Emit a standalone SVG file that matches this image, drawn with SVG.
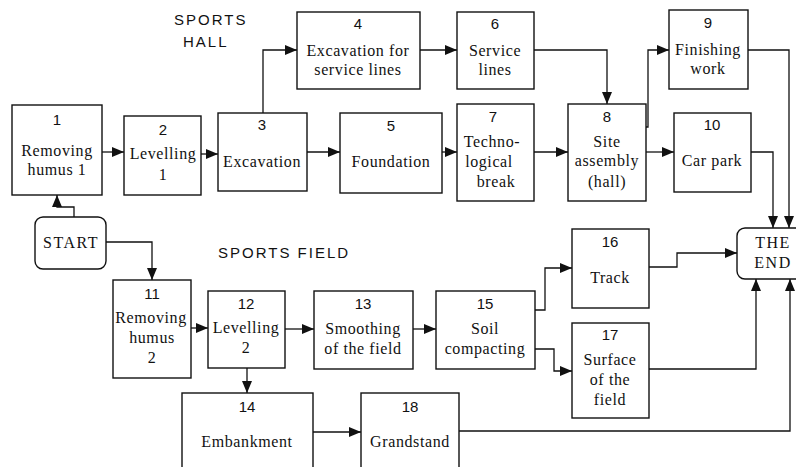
<svg xmlns="http://www.w3.org/2000/svg" width="796" height="467" viewBox="0 0 796 467">
<style>
.box{fill:#fff;stroke:#111;stroke-width:1.4}
.num{font-family:"Liberation Sans",Arial,sans-serif;font-size:15px;fill:#111;text-anchor:middle}
.lbl{font-family:"Liberation Serif","Times New Roman",serif;font-size:16px;letter-spacing:0.6px;fill:#111;text-anchor:middle}
.sec{font-family:"Liberation Sans",Arial,sans-serif;font-size:15px;letter-spacing:2px;fill:#111}
.term{font-family:"Liberation Serif","Times New Roman",serif;font-size:16px;letter-spacing:1.5px;fill:#111;text-anchor:middle}
.con{fill:none;stroke:#111;stroke-width:1.3}
</style>
<defs>
<marker id="arr" markerUnits="userSpaceOnUse" markerWidth="12" markerHeight="10" refX="12" refY="5" orient="auto">
<path d="M0,0 L12,5 L0,10 z" fill="#111"/>
</marker>
</defs>
<rect width="796" height="467" fill="#fff"/>
<text class="sec" x="174" y="25">SPORTS</text>
<text class="sec" x="183" y="47">HALL</text>
<text class="sec" x="218" y="258">SPORTS FIELD</text>

<g id="connectors">
<path class="con" marker-end="url(#arr)" d="M74,217 V207 H57 V195"/>
<path class="con" marker-end="url(#arr)" d="M106,242 H152 V280"/>
<path class="con" marker-end="url(#arr)" d="M102,152 H124"/>
<path class="con" marker-end="url(#arr)" d="M201,154 H218"/>
<path class="con" marker-end="url(#arr)" d="M263,113 V50 H297"/>
<path class="con" marker-end="url(#arr)" d="M307,152 H340"/>
<path class="con" marker-end="url(#arr)" d="M420,50 H457"/>
<path class="con" marker-end="url(#arr)" d="M442,152 H457"/>
<path class="con" marker-end="url(#arr)" d="M534,50 H607 V104"/>
<path class="con" marker-end="url(#arr)" d="M534,152 H568"/>
<path class="con" marker-end="url(#arr)" d="M646,127 H648 V50 H669"/>
<path class="con" marker-end="url(#arr)" d="M646,152 H674"/>
<path class="con" marker-end="url(#arr)" d="M748,50 H789 V228"/>
<path class="con" marker-end="url(#arr)" d="M751,152 H773 V228"/>
<path class="con" marker-end="url(#arr)" d="M191,328 H208"/>
<path class="con" marker-end="url(#arr)" d="M285,329 H314"/>
<path class="con" marker-end="url(#arr)" d="M413,329 H436"/>
<path class="con" marker-end="url(#arr)" d="M535,310 H545 V268 H572"/>
<path class="con" marker-end="url(#arr)" d="M535,349 H554 V371 H572"/>
<path class="con" marker-end="url(#arr)" d="M649,267 H677 V253 H737"/>
<path class="con" marker-end="url(#arr)" d="M649,369 H756 V279"/>
<path class="con" marker-end="url(#arr)" d="M247,368 V393"/>
<path class="con" marker-end="url(#arr)" d="M313,432 H361"/>
<path class="con" marker-end="url(#arr)" d="M459,431 H790 V279"/>
</g>

<g id="start">
<rect class="box" x="35" y="217" width="71" height="52" rx="8"/>
<text class="term" x="71" y="248">START</text>
</g>
<g id="end">
<rect class="box" x="737" y="228" width="72" height="51" rx="8"/>
<text class="term" x="773" y="248">THE</text>
<text class="term" x="773" y="268">END</text>
</g>

<g id="n1">
<rect class="box" x="12" y="105" width="90" height="90"/>
<text class="num" x="57" y="125">1</text>
<text class="lbl" x="57" y="156">Removing</text>
<text class="lbl" x="57" y="175">humus 1</text>
</g>
<g id="n2">
<rect class="box" x="124" y="116" width="77" height="79"/>
<text class="num" x="163" y="135">2</text>
<text class="lbl" x="163" y="159">Levelling</text>
<text class="lbl" x="163" y="180">1</text>
</g>
<g id="n3">
<rect class="box" x="218" y="113" width="89" height="78"/>
<text class="num" x="262" y="130">3</text>
<text class="lbl" x="262" y="167">Excavation</text>
</g>
<g id="n4">
<rect class="box" x="297" y="12" width="123" height="77"/>
<text class="num" x="358" y="29">4</text>
<text class="lbl" x="358" y="56">Excavation for</text>
<text class="lbl" x="358" y="75">service lines</text>
</g>
<g id="n5">
<rect class="box" x="340" y="113" width="102" height="80"/>
<text class="num" x="391" y="131">5</text>
<text class="lbl" x="391" y="167">Foundation</text>
</g>
<g id="n6">
<rect class="box" x="457" y="12" width="77" height="77"/>
<text class="num" x="495" y="29">6</text>
<text class="lbl" x="495" y="56">Service</text>
<text class="lbl" x="495" y="75">lines</text>
</g>
<g id="n7">
<rect class="box" x="457" y="104" width="77" height="97"/>
<text class="num" x="493" y="122">7</text>
<text class="lbl" x="492" y="147">Techno-</text>
<text class="lbl" x="489" y="167">logical</text>
<text class="lbl" x="496" y="187">break</text>
</g>
<g id="n8">
<rect class="box" x="568" y="104" width="78" height="97"/>
<text class="num" x="607" y="122">8</text>
<text class="lbl" x="607" y="147">Site</text>
<text class="lbl" x="607" y="166">assembly</text>
<text class="lbl" x="607" y="187">(hall)</text>
</g>
<g id="n9">
<rect class="box" x="669" y="10" width="79" height="79"/>
<text class="num" x="708" y="28">9</text>
<text class="lbl" x="708" y="55">Finishing</text>
<text class="lbl" x="708" y="74">work</text>
</g>
<g id="n10">
<rect class="box" x="674" y="113" width="77" height="79"/>
<text class="num" x="712" y="130">10</text>
<text class="lbl" x="712" y="166">Car park</text>
</g>
<g id="n11">
<rect class="box" x="113" y="280" width="78" height="98"/>
<text class="num" x="152" y="299">11</text>
<text class="lbl" x="151" y="323">Removing</text>
<text class="lbl" x="152" y="343">humus</text>
<text class="lbl" x="152" y="363">2</text>
</g>
<g id="n12">
<rect class="box" x="208" y="291" width="77" height="77"/>
<text class="num" x="246" y="309">12</text>
<text class="lbl" x="246" y="333">Levelling</text>
<text class="lbl" x="246" y="353">2</text>
</g>
<g id="n13">
<rect class="box" x="314" y="291" width="99" height="78"/>
<text class="num" x="363" y="309">13</text>
<text class="lbl" x="363" y="334">Smoothing</text>
<text class="lbl" x="363" y="354">of the field</text>
</g>
<g id="n15">
<rect class="box" x="436" y="291" width="99" height="78"/>
<text class="num" x="485" y="309">15</text>
<text class="lbl" x="485" y="334">Soil</text>
<text class="lbl" x="485" y="354">compacting</text>
</g>
<g id="n16">
<rect class="box" x="572" y="229" width="77" height="79"/>
<text class="num" x="610" y="247">16</text>
<text class="lbl" x="610" y="283">Track</text>
</g>
<g id="n17">
<rect class="box" x="572" y="323" width="77" height="95"/>
<text class="num" x="610" y="340">17</text>
<text class="lbl" x="610" y="365">Surface</text>
<text class="lbl" x="610" y="385">of the</text>
<text class="lbl" x="610" y="405">field</text>
</g>
<g id="n14">
<rect class="box" x="182" y="393" width="131" height="90"/>
<text class="num" x="247" y="412">14</text>
<text class="lbl" x="247" y="447">Embankment</text>
</g>
<g id="n18">
<rect class="box" x="361" y="393" width="98" height="90"/>
<text class="num" x="410" y="412">18</text>
<text class="lbl" x="410" y="447">Grandstand</text>
</g>
</svg>
